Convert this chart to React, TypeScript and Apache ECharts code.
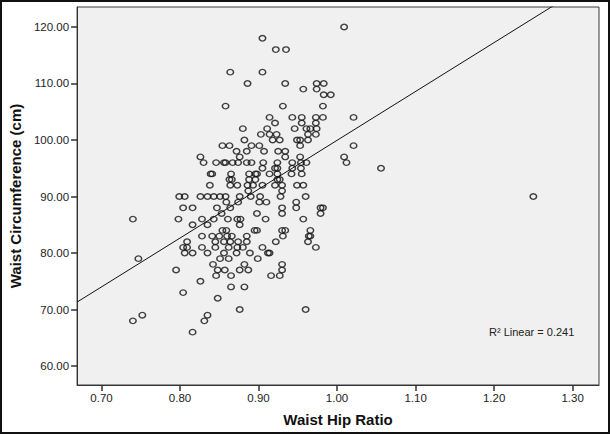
import React, { useEffect, useRef } from "react";
import * as echarts from "echarts";

// Waist circumference (cm) level -> waist hip ratios observed at that level
const observations: [number, number[]][] = [
  [120, [1.009]],
  [118, [0.905]],
  [116, [0.922, 0.935]],
  [112, [0.864, 0.905]],
  [110, [0.886, 0.934, 0.974, 0.983]],
  [109, [0.957, 0.974]],
  [108, [0.983, 0.992]],
  [106, [0.858, 0.931, 0.982]],
  [104, [0.914, 0.943, 0.955, 0.973, 0.982, 1.021]],
  [103, [0.921, 0.955, 0.973]],
  [102, [0.88, 0.911, 0.946, 0.961, 0.966, 0.974]],
  [101, [0.903, 0.914, 0.923, 0.963, 0.973]],
  [100, [0.882, 0.918, 0.927, 0.949, 0.953, 0.963]],
  [99, [0.854, 0.863, 0.891, 0.901, 0.953, 1.021]],
  [98, [0.872, 0.885, 0.907, 0.925, 0.934]],
  [97, [0.826, 0.876, 0.934, 0.953, 1.009]],
  [96, [0.83, 0.846, 0.856, 0.858, 0.867, 0.874, 0.885, 0.891, 0.906, 0.924, 0.943, 0.954, 0.961, 1.012]],
  [95, [0.905, 0.921, 0.924, 0.943, 0.954, 1.056]],
  [94, [0.839, 0.841, 0.865, 0.888, 0.896, 0.898, 0.914, 0.924, 0.942, 0.955]],
  [93, [0.863, 0.866, 0.888, 0.896, 0.924, 0.927]],
  [92, [0.838, 0.864, 0.873, 0.886, 0.893, 0.905, 0.921, 0.93, 0.949, 0.957]],
  [91, [0.887, 0.93]],
  [90, [0.799, 0.806, 0.826, 0.835, 0.843, 0.851, 0.858, 0.876, 0.89, 0.902, 0.928, 0.96, 1.25]],
  [89, [0.859, 0.874, 0.901, 0.91, 0.948]],
  [88, [0.804, 0.816, 0.847, 0.864, 0.93, 0.948, 0.979, 0.982]],
  [87, [0.853, 0.898, 0.93, 0.979]],
  [86, [0.74, 0.798, 0.828, 0.843, 0.861, 0.873, 0.877, 0.909, 0.957]],
  [85, [0.816, 0.835, 0.876]],
  [84, [0.854, 0.859, 0.895, 0.898, 0.93, 0.934, 0.966]],
  [83, [0.828, 0.841, 0.85, 0.86, 0.866, 0.885, 0.931, 0.964, 0.966]],
  [82, [0.809, 0.845, 0.856, 0.864, 0.874, 0.885, 0.922, 0.963]],
  [81, [0.804, 0.809, 0.828, 0.845, 0.862, 0.873, 0.88, 0.905, 0.973]],
  [80, [0.806, 0.816, 0.835, 0.856, 0.872, 0.889, 0.912, 0.914]],
  [79, [0.747, 0.851, 0.862, 0.899]],
  [78, [0.842, 0.882, 0.93]],
  [77, [0.795, 0.848, 0.857, 0.876, 0.887, 0.93]],
  [76, [0.846, 0.865, 0.916, 0.927]],
  [75, [0.826]],
  [74, [0.865, 0.882]],
  [73, [0.804]],
  [72, [0.848]],
  [70, [0.876, 0.96]],
  [69, [0.752, 0.835]],
  [68, [0.74, 0.831]],
  [66, [0.816]],
];

const xTicks = [0.7, 0.8, 0.9, 1.0, 1.1, 1.2, 1.3];
const yTicks = [60, 70, 80, 90, 100, 110, 120];
const xRange = [0.6689, 1.3336];
const yRange = [56.65, 123.53];
// Linear fit
const fitIntercept = 13.49;
const fitSlope = 86.45;
const r2Label = "R² Linear = 0.241";

export default function App() {
  const ref = useRef<HTMLDivElement>(null);
  useEffect(() => {
    document.body.style.margin = "0";
    if (!ref.current) return;
    const chart = echarts.init(ref.current, undefined, { renderer: "svg" });
    const scatterData: number[][] = [];
    observations.forEach(([w, xs]) => xs.forEach((x) => scatterData.push([x, w])));
    const fitData = xRange.map((x) => [x, fitIntercept + fitSlope * x]);
    const font = "'Liberation Sans', Arial, sans-serif";
    chart.setOption({
      animation: false,
      backgroundColor: "#ffffff",
      grid: {
        left: 67,
        right: 11,
        top: 7,
        bottom: 49,
        show: true,
        backgroundColor: "#f0f0f0",
        borderColor: "#3a3a3a",
        borderWidth: 1,
      },
      xAxis: {
        type: "value",
        min: xRange[0],
        max: xRange[1],
        splitLine: { show: false },
        axisLine: { show: true, onZero: false, lineStyle: { color: "#333", width: 1 } },
        axisTick: { show: true, length: 6, customValues: xTicks, lineStyle: { color: "#333", width: 1.5 } },
        axisLabel: {
          customValues: xTicks,
          formatter: (v: number) => v.toFixed(2),
          fontSize: 11.5,
          color: "#222",
          fontFamily: font,
          margin: 7,
        },
        name: "Waist Hip Ratio",
        nameLocation: "middle",
        nameGap: 27,
        nameTextStyle: { fontSize: 15, fontWeight: "bold", color: "#111", fontFamily: font },
      },
      yAxis: {
        type: "value",
        min: yRange[0],
        max: yRange[1],
        splitLine: { show: false },
        axisLine: { show: true, onZero: false, lineStyle: { color: "#333", width: 1 } },
        axisTick: { show: true, length: 6, customValues: yTicks, lineStyle: { color: "#333", width: 1.5 } },
        axisLabel: {
          customValues: yTicks,
          formatter: (v: number) => v.toFixed(2),
          fontSize: 11.5,
          color: "#222",
          fontFamily: font,
          margin: 8,
        },
        name: "Waist Circumference (cm)",
        nameLocation: "middle",
        nameGap: 38,
        nameRotate: 90,
        nameTextStyle: { fontSize: 15, fontWeight: "bold", color: "#111", fontFamily: font },
      },
      series: [
        {
          type: "scatter",
          data: scatterData,
          symbol: "circle",
          symbolSize: [6.5, 5.5],
          itemStyle: { color: "rgba(0,0,0,0)", borderColor: "#111", borderWidth: 1.4 },
          silent: true,
        },
        {
          type: "line",
          data: fitData,
          showSymbol: false,
          symbol: "none",
          clip: true,
          lineStyle: { color: "#111", width: 1 },
          silent: true,
        },
      ],
      graphic: [
        {
          type: "rect",
          shape: { x: 1, y: 1, width: 608, height: 432 },
          style: { fill: "none", stroke: "#111", lineWidth: 2 },
          silent: true,
        },
        {
          type: "text",
          left: 489,
          top: 326,
          style: { text: r2Label, fontSize: 11, fill: "#222", fontFamily: font },
          silent: true,
        },
      ],
    });
    return () => chart.dispose();
  }, []);
  return <div ref={ref} style={{ width: 610, height: 434 }} />;
}
